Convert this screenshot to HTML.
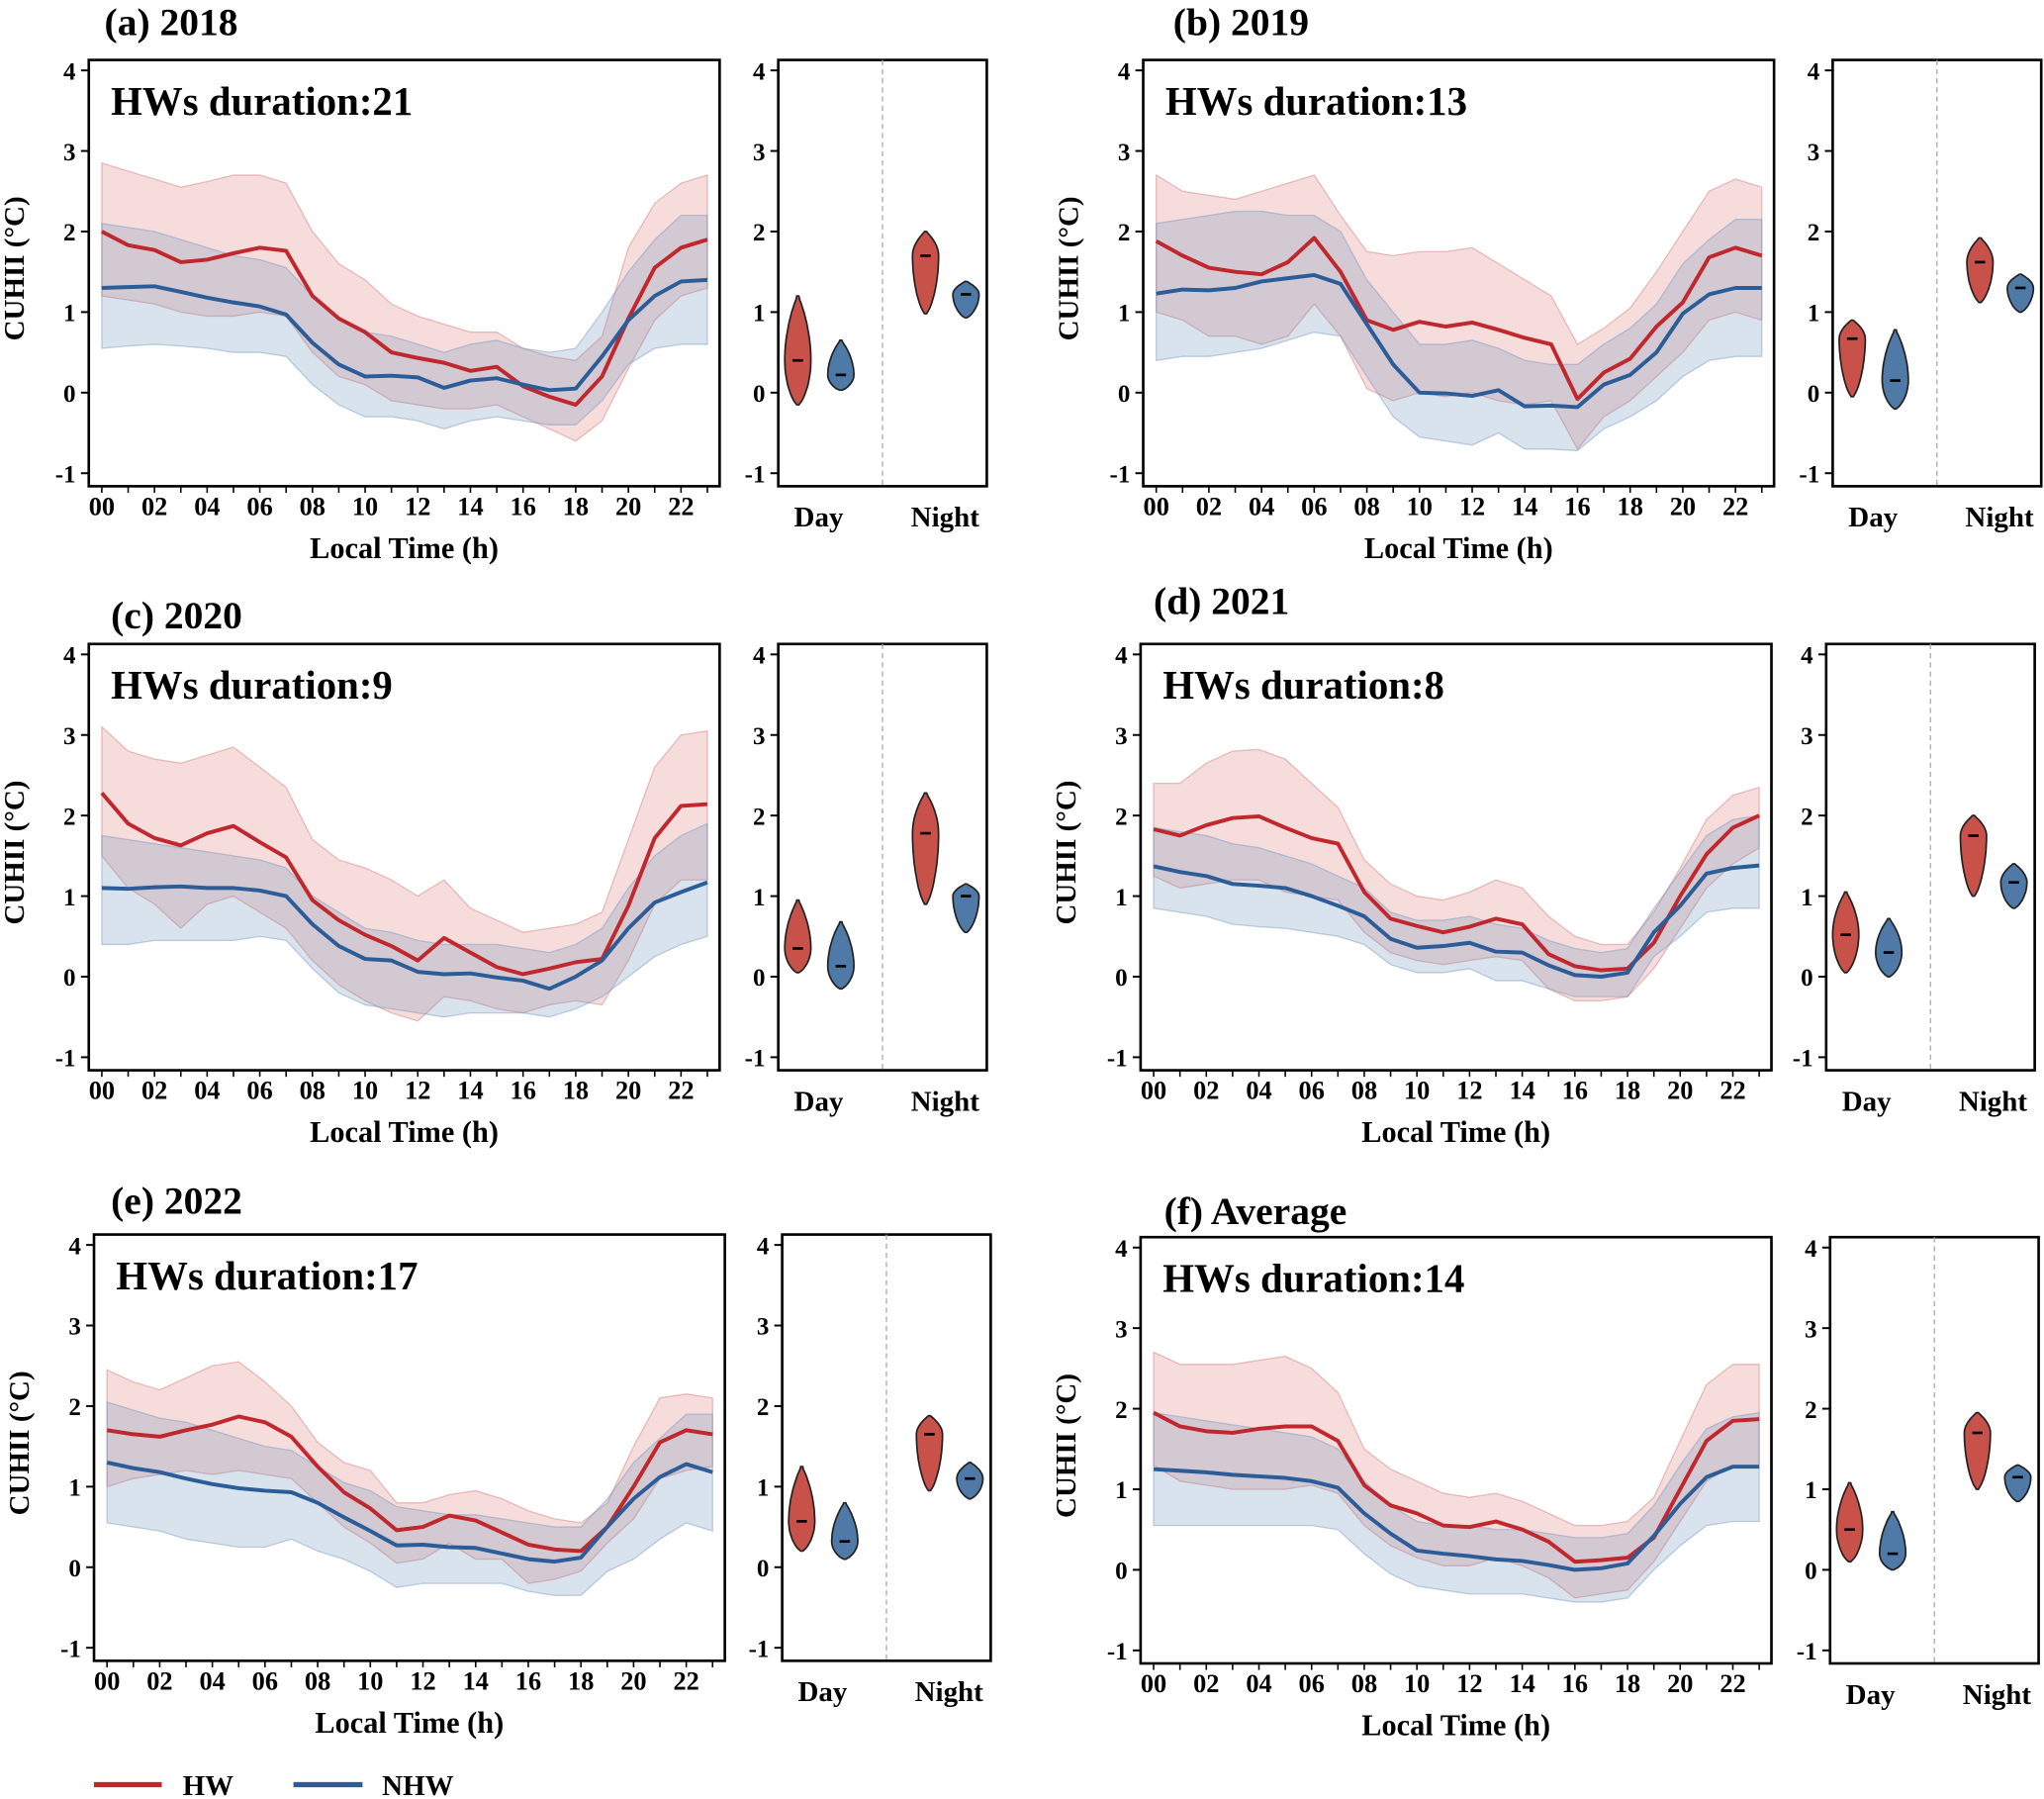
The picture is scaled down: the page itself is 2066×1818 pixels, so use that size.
<!DOCTYPE html>
<html><head><meta charset="utf-8">
<style>
html,body{margin:0;padding:0;background:#fff;}
svg{display:block;font-family:"Liberation Serif",serif;font-weight:bold;}
</style></head>
<body>
<svg id="fig" width="2066" height="1818" viewBox="0 0 1568 1380" xmlns="http://www.w3.org/2000/svg"></svg>
<script>
// ---- data (value units: °C) ----
const hours = [0,1,2,3,4,5,6,7,8,9,10,11,12,13,14,15,16,17,18,19,20,21,22,23];
const hourTickLabels = ["00","02","04","06","08","10","12","14","16","18","20","22"];
const yTickValues = [-1,0,1,2,3,4];

const hwMeanA = [2.0,1.83,1.77,1.62,1.65,1.73,1.8,1.76,1.2,0.92,0.75,0.5,0.43,0.37,0.27,0.32,0.08,-0.05,-0.15,0.2,0.92,1.55,1.8,1.9];
const hwUpA   = [2.85,2.75,2.65,2.55,2.62,2.7,2.7,2.6,2.0,1.6,1.4,1.1,0.95,0.85,0.75,0.75,0.55,0.45,0.4,0.7,1.8,2.35,2.6,2.7];
const hwLoA   = [1.2,1.15,1.1,1.0,0.95,0.95,1.0,0.95,0.5,0.2,0.1,-0.1,-0.15,-0.2,-0.2,-0.15,-0.3,-0.45,-0.6,-0.35,0.3,0.9,1.2,1.3];
const nhwMeanA= [1.3,1.31,1.32,1.25,1.18,1.12,1.07,0.97,0.62,0.35,0.2,0.21,0.19,0.06,0.15,0.18,0.1,0.03,0.05,0.45,0.9,1.2,1.38,1.4];
const nhwUpA  = [2.1,2.05,2.0,1.9,1.8,1.7,1.65,1.55,1.2,0.9,0.75,0.7,0.6,0.5,0.6,0.65,0.55,0.5,0.55,1.0,1.5,1.9,2.2,2.2];
const nhwLoA  = [0.55,0.58,0.6,0.58,0.55,0.5,0.5,0.45,0.1,-0.15,-0.3,-0.3,-0.35,-0.45,-0.35,-0.3,-0.35,-0.4,-0.4,-0.1,0.35,0.55,0.6,0.6];

const hwMeanB = [1.88,1.7,1.55,1.5,1.47,1.62,1.92,1.5,0.9,0.78,0.88,0.82,0.87,0.78,0.68,0.6,-0.08,0.25,0.42,0.82,1.12,1.68,1.8,1.7];
const hwUpB   = [2.7,2.5,2.45,2.4,2.5,2.6,2.7,2.2,1.75,1.7,1.75,1.75,1.8,1.6,1.4,1.2,0.6,0.8,1.05,1.5,2.0,2.5,2.65,2.55];
const hwLoB   = [1.0,0.9,0.7,0.7,0.6,0.7,1.1,0.7,0.05,-0.1,0.0,-0.05,0.0,-0.1,-0.15,-0.1,-0.7,-0.3,-0.1,0.2,0.5,0.9,1.0,0.9];
const nhwMeanB= [1.23,1.28,1.27,1.3,1.38,1.42,1.46,1.35,0.85,0.35,0.0,-0.01,-0.04,0.03,-0.17,-0.16,-0.18,0.1,0.22,0.5,0.98,1.22,1.3,1.3];
const nhwUpB  = [2.1,2.15,2.2,2.25,2.25,2.2,2.2,2.0,1.4,1.0,0.6,0.6,0.65,0.55,0.4,0.35,0.35,0.6,0.8,1.1,1.6,1.9,2.15,2.15];
const nhwLoB  = [0.4,0.45,0.45,0.5,0.55,0.65,0.75,0.7,0.2,-0.3,-0.55,-0.6,-0.65,-0.5,-0.7,-0.7,-0.72,-0.45,-0.3,-0.1,0.2,0.4,0.45,0.45];

const hwMeanC = [2.28,1.9,1.72,1.63,1.78,1.87,1.67,1.48,0.95,0.7,0.52,0.38,0.2,0.48,0.3,0.12,0.03,0.1,0.18,0.22,0.88,1.72,2.12,2.14];
const hwUpC   = [3.1,2.8,2.7,2.65,2.75,2.85,2.6,2.35,1.7,1.45,1.35,1.2,1.0,1.2,0.85,0.7,0.55,0.6,0.65,0.8,1.7,2.6,3.0,3.05];
const hwLoC   = [1.5,1.1,0.9,0.6,0.9,1.0,0.8,0.6,0.2,-0.1,-0.3,-0.45,-0.55,-0.25,-0.3,-0.4,-0.45,-0.35,-0.3,-0.35,0.2,0.9,1.2,1.2];
const nhwMeanC= [1.1,1.09,1.11,1.12,1.1,1.1,1.07,1.0,0.65,0.38,0.22,0.2,0.06,0.03,0.04,-0.01,-0.05,-0.15,0.0,0.2,0.6,0.92,1.05,1.17];
const nhwUpC  = [1.75,1.7,1.65,1.6,1.55,1.5,1.45,1.35,1.0,0.8,0.6,0.55,0.45,0.4,0.4,0.4,0.35,0.3,0.4,0.6,1.1,1.5,1.75,1.9];
const nhwLoC  = [0.4,0.4,0.45,0.45,0.45,0.45,0.5,0.45,0.1,-0.2,-0.35,-0.4,-0.45,-0.5,-0.45,-0.45,-0.45,-0.5,-0.4,-0.25,0.0,0.25,0.4,0.5];

const hwMeanD = [1.83,1.75,1.88,1.97,1.99,1.85,1.72,1.65,1.05,0.72,0.63,0.55,0.62,0.72,0.65,0.28,0.13,0.08,0.1,0.42,1.0,1.52,1.85,2.0];
const hwUpD   = [2.4,2.4,2.65,2.8,2.82,2.7,2.4,2.1,1.45,1.15,1.0,0.95,1.05,1.2,1.1,0.75,0.5,0.4,0.4,0.8,1.35,1.95,2.25,2.35];
const hwLoD   = [1.25,1.1,1.15,1.2,1.2,1.05,1.0,0.95,0.55,0.3,0.2,0.15,0.2,0.25,0.2,-0.15,-0.3,-0.3,-0.25,0.1,0.6,1.1,1.4,1.6];
const nhwMeanD= [1.37,1.3,1.25,1.15,1.13,1.1,1.0,0.88,0.75,0.47,0.36,0.38,0.42,0.31,0.3,0.14,0.02,0.0,0.05,0.55,0.88,1.28,1.35,1.38];
const nhwUpD  = [1.85,1.8,1.75,1.65,1.6,1.5,1.4,1.25,1.1,0.8,0.7,0.7,0.75,0.65,0.6,0.45,0.35,0.3,0.35,0.85,1.3,1.75,1.95,2.0];
const nhwLoD  = [0.85,0.8,0.75,0.65,0.62,0.6,0.55,0.5,0.4,0.15,0.05,0.05,0.1,-0.05,-0.05,-0.15,-0.25,-0.25,-0.25,0.25,0.5,0.8,0.85,0.85];

const hwMeanE = [1.7,1.65,1.62,1.7,1.77,1.87,1.8,1.62,1.25,0.93,0.73,0.46,0.5,0.64,0.58,0.43,0.28,0.22,0.2,0.5,1.0,1.55,1.7,1.65];
const hwUpE   = [2.45,2.3,2.2,2.35,2.5,2.55,2.3,2.0,1.55,1.3,1.2,0.8,0.8,0.9,0.95,0.85,0.7,0.6,0.55,0.8,1.5,2.1,2.15,2.1];
const hwLoE   = [1.0,1.1,1.15,1.2,1.15,1.2,1.15,1.1,0.8,0.5,0.3,0.05,0.1,0.3,0.1,0.1,-0.2,-0.15,-0.05,0.3,0.6,1.1,1.2,1.25];
const nhwMeanE= [1.3,1.23,1.18,1.1,1.03,0.98,0.95,0.93,0.8,0.62,0.45,0.27,0.28,0.25,0.24,0.17,0.1,0.07,0.12,0.5,0.85,1.12,1.28,1.18];
const nhwUpE  = [2.05,1.95,1.85,1.8,1.7,1.6,1.5,1.45,1.25,1.05,0.95,0.75,0.7,0.65,0.65,0.6,0.55,0.5,0.5,0.85,1.3,1.6,1.9,1.9];
const nhwLoE  = [0.55,0.5,0.45,0.35,0.3,0.25,0.25,0.35,0.2,0.1,-0.05,-0.25,-0.2,-0.2,-0.2,-0.2,-0.3,-0.35,-0.35,-0.05,0.1,0.35,0.55,0.45];

const hwMeanF = [1.95,1.78,1.72,1.7,1.75,1.78,1.78,1.6,1.05,0.8,0.7,0.55,0.53,0.6,0.5,0.35,0.1,0.12,0.15,0.4,1.0,1.6,1.85,1.87];
const hwUpF   = [2.7,2.55,2.55,2.55,2.6,2.65,2.5,2.2,1.5,1.25,1.1,0.95,0.9,0.95,0.85,0.7,0.55,0.55,0.6,0.9,1.6,2.3,2.55,2.55];
const hwLoF   = [1.3,1.1,1.05,1.0,1.0,1.0,1.05,0.95,0.55,0.3,0.15,0.05,0.05,0.15,0.05,-0.1,-0.35,-0.3,-0.25,0.1,0.6,1.1,1.3,1.3];
const nhwMeanF= [1.25,1.23,1.21,1.18,1.16,1.14,1.1,1.02,0.7,0.45,0.24,0.2,0.17,0.13,0.11,0.06,0.0,0.02,0.08,0.42,0.82,1.15,1.28,1.28];
const nhwUpF  = [1.95,1.9,1.85,1.8,1.75,1.7,1.65,1.5,1.1,0.8,0.6,0.55,0.55,0.5,0.5,0.45,0.4,0.4,0.45,0.8,1.3,1.75,1.9,1.95];
const nhwLoF  = [0.55,0.55,0.55,0.55,0.55,0.55,0.55,0.5,0.2,-0.05,-0.2,-0.25,-0.3,-0.3,-0.3,-0.35,-0.4,-0.4,-0.35,0.0,0.3,0.55,0.6,0.6];

// violin stats: [min, max, median] for day-HW, day-NHW, night-HW, night-NHW
const violinA = [[-0.15,1.2,0.4],[0.03,0.65,0.22],[0.98,2.0,1.7],[0.93,1.38,1.22]];
const violinB = [[-0.05,0.9,0.67],[-0.2,0.78,0.15],[1.12,1.92,1.62],[1.0,1.47,1.3]];
const violinC = [[0.05,0.95,0.35],[-0.15,0.68,0.13],[0.9,2.28,1.78],[0.55,1.15,1.0]];
const violinD = [[0.05,1.05,0.52],[0.0,0.72,0.3],[1.0,2.0,1.75],[0.85,1.4,1.17]];
const violinE = [[0.2,1.25,0.57],[0.1,0.8,0.32],[0.95,1.88,1.65],[0.85,1.3,1.1]];
const violinF = [[0.1,1.08,0.5],[0.0,0.72,0.2],[1.0,1.95,1.7],[0.85,1.3,1.15]];

const panelTitles = ["(a) 2018","(b) 2019","(c) 2020","(d) 2021","(e) 2022","(f) Average"];
const durations = [21,13,9,8,17,14];

// ---- layout ----
const layouts = [
 {x:68,y:46,vx:597,tx:80,ty:14},
 {x:877,y:46,vx:1406,tx:900,ty:14},
 {x:68,y:494,vx:597,tx:85,ty:469},
 {x:875,y:494,vx:1401,tx:885,ty:458},
 {x:72,y:947,vx:600,tx:85,ty:918},
 {x:875,y:949,vx:1404,tx:893,ty:926}
];
const series = [
 [hwMeanA,hwUpA,hwLoA,nhwMeanA,nhwUpA,nhwLoA,violinA],
 [hwMeanB,hwUpB,hwLoB,nhwMeanB,nhwUpB,nhwLoB,violinB],
 [hwMeanC,hwUpC,hwLoC,nhwMeanC,nhwUpC,nhwLoC,violinC],
 [hwMeanD,hwUpD,hwLoD,nhwMeanD,nhwUpD,nhwLoD,violinD],
 [hwMeanE,hwUpE,hwLoE,nhwMeanE,nhwUpE,nhwLoE,violinE],
 [hwMeanF,hwUpF,hwLoF,nhwMeanF,nhwUpF,nhwLoF,violinF]
];
const W = 484, H = 327, VW = 160;
const HWC = "#c0282d", NHWC = "#2c5d98";
const svg = document.getElementById('fig');
const NS = "http://www.w3.org/2000/svg";
function mk(tag, attrs, parent, text){
  const e = document.createElementNS(NS, tag);
  for (const k in attrs) e.setAttribute(k, attrs[k]);
  if (text !== undefined) e.textContent = text;
  (parent||svg).appendChild(e);
  return e;
}

layouts.forEach((L, i) => {
  const [hm,hu,hl,nm,nu,nl,vio] = series[i];
  const g = mk('g', {});
  
  
  const yS = v => L.y + 8 + (4 - v) * 61.8;
  const xS = h => L.x + 10 + h * 20.2;

  const t = mk('text', {x:L.tx, y:L.ty+13, 'font-size':30}, g, panelTitles[i]);
  
  

  function band(up, lo, fill, stroke, name){
    let d = up.map((v,k)=>(k?'L':'M')+xS(hours[k]).toFixed(1)+','+yS(v).toFixed(1)).join('');
    for (let k=lo.length-1;k>=0;k--) d += 'L'+xS(hours[k]).toFixed(1)+','+yS(lo[k]).toFixed(1);
    const p = mk('path', {d:d+'Z', fill:fill, stroke:stroke, 'stroke-width':1}, g);
    
    
  }
  function line(vals, color, name){
    const d = vals.map((v,k)=>(k?'L':'M')+xS(hours[k]).toFixed(1)+','+yS(v).toFixed(1)).join('');
    const p = mk('path', {d:d, fill:'none', stroke:color, 'stroke-width':3, 'stroke-linejoin':'round'}, g);
    
    
  }
  band(hu, hl, 'rgba(222,110,110,0.24)', 'rgba(210,120,120,0.45)', 'hw-range-band');
  band(nu, nl, 'rgba(110,145,185,0.26)', 'rgba(120,150,190,0.45)', 'nhw-range-band');
  line(hm, HWC, 'hw-mean-line');
  line(nm, NHWC, 'nhw-mean-line');

  const fr = mk('rect', {x:L.x, y:L.y, width:W, height:H, fill:'none', stroke:'#000', 'stroke-width':2}, g);
  
  

  yTickValues.forEach(v => {
    mk('line', {x1:L.x-6, x2:L.x, y1:yS(v), y2:yS(v), stroke:'#000', 'stroke-width':1.5}, g);
    const tl = mk('text', {x:L.x-10, y:yS(v)+7, 'font-size':19, 'text-anchor':'end'}, g, String(v));
    
    
    mk('line', {x1:L.vx-6, x2:L.vx, y1:yS(v), y2:yS(v), stroke:'#000', 'stroke-width':1.5}, g);
    const tv = mk('text', {x:L.vx-10, y:yS(v)+7, 'font-size':19, 'text-anchor':'end'}, g, String(v));
    
    
  });
  hours.forEach(h => mk('line', {x1:xS(h), x2:xS(h), y1:L.y+H, y2:L.y+H+5, stroke:'#000', 'stroke-width':1.2}, g));
  hourTickLabels.forEach(s => {
    const xl = mk('text', {x:xS(+s), y:L.y+H+22, 'font-size':20, 'text-anchor':'middle'}, g, s);
    
    
  });
  const xt = mk('text', {x:L.x+W/2, y:L.y+H+55, 'font-size':23, 'text-anchor':'middle'}, g, 'Local Time (h)');
  
  
  const cy = L.y + 160;
  const yt = mk('text', {x:L.x-50, y:cy, 'font-size':22, 'text-anchor':'middle', transform:`rotate(-90 ${L.x-50} ${cy})`}, g, 'CUHII (\u00B0C)');
  
  
  const du = mk('text', {x:L.x+17, y:L.y+42, 'font-size':31}, g, 'HWs duration:' + durations[i]);
  
  

  const vf = mk('rect', {x:L.vx, y:L.y, width:VW, height:H, fill:'none', stroke:'#000', 'stroke-width':2}, g);
  
  
  const mid = L.vx + 80;
  const dl = mk('line', {x1:mid, x2:mid, y1:L.y, y2:L.y+H, stroke:'#aaa', 'stroke-width':1, 'stroke-dasharray':'4,3'}, g);
  
  
  const vx = [L.vx+15, L.vx+48, L.vx+113, L.vx+144];
  const vCols = ['#c8514a', '#4f7aa8', '#c8514a', '#4f7aa8'];
  vio.forEach((st, k) => {
    const [mn, mx, md] = st;
    const Wd = 10;
    const pts = [];
    const N = 30;
    for (let j=0;j<=N;j++){
      const v = mn + (mx-mn)*j/N;
      let f;
      if (v <= md) {
        const r = Math.min(1, Math.max(0, (v-mn)/Math.max(md-mn,1e-6)));
        f = Math.pow(Math.max(0, Math.sin(Math.PI/2*r)), 0.6);
      } else {
        const r = Math.min(1, Math.max(0, (v-md)/Math.max(mx-md,1e-6)));
        f = Math.pow(Math.max(0, Math.cos(Math.PI/2*r)), 0.8);
      }
      pts.push([v, Math.max(f,0.08)*Wd]);
    }
    let d = pts.map((p,j)=>(j?'L':'M')+(vx[k]+p[1]).toFixed(1)+','+yS(p[0]).toFixed(1)).join('');
    for (let j=pts.length-1;j>=0;j--) d += 'L'+(vx[k]-pts[j][1]).toFixed(1)+','+yS(pts[j][0]).toFixed(1);
    const vp = mk('path', {d:d+'Z', fill:vCols[k], stroke:'#222', 'stroke-width':1.3}, g);
    
    
    mk('line', {x1:vx[k]-4, x2:vx[k]+4, y1:yS(md), y2:yS(md), stroke:'#000', 'stroke-width':2}, g);
  });
  const dy = mk('text', {x:L.vx+31, y:L.y+H+31, 'font-size':22, 'text-anchor':'middle'}, g, 'Day');
  
  
  const nt = mk('text', {x:L.vx+128, y:L.y+H+31, 'font-size':22, 'text-anchor':'middle'}, g, 'Night');
  
  
});

const lg = mk('g', {});


const l1 = mk('line', {x1:72, x2:124, y1:1369, y2:1369, stroke:HWC, 'stroke-width':4}, lg);


const t1 = mk('text', {x:140, y:1377, 'font-size':22}, lg, 'HW');


const l2 = mk('line', {x1:225, x2:278, y1:1369, y2:1369, stroke:NHWC, 'stroke-width':4}, lg);


const t2 = mk('text', {x:293, y:1377, 'font-size':22}, lg, 'NHW');


</script>
</body></html>
